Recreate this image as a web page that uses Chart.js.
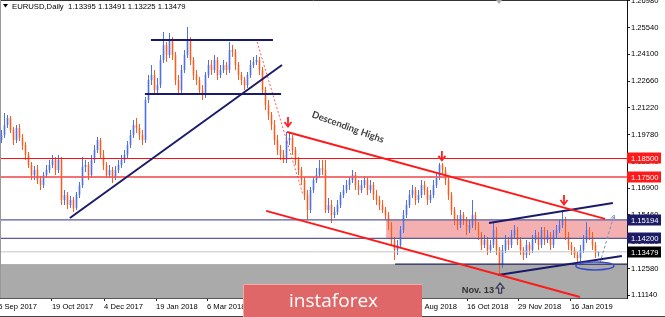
<!DOCTYPE html>
<html>
<head>
<meta charset="UTF-8">
<title>EURUSD Daily</title>
<script src="https://cdn.jsdelivr.net/npm/chart.js"></script>
<style>
  html, body { margin: 0; padding: 0; background: #fff; }
  #wrap { width: 665px; height: 317px; }
</style>
</head>
<body>
<div id="wrap"><canvas id="eurusd" width="665" height="317"></canvas></div>
<script>
// one bar = two trading days
var opens = [
  1.1949,1.1976,1.2030,1.2068,1.2003,1.1949,1.2014,1.1960,1.1923,1.1869,
  1.1815,1.1761,1.1788,1.1734,1.1707,1.1761,1.1788,1.1815,1.1842,1.1788,
  1.1842,1.1627,1.1654,1.1600,1.1627,1.1584,1.1654,1.1707,1.1804,1.1815,
  1.1761,1.1842,1.1896,1.1949,1.1869,1.1815,1.1761,1.1788,1.1745,1.1788,
  1.1815,1.1842,1.1869,1.1923,1.1976,1.2030,1.2014,1.1976,1.1949,1.2165,
  1.2272,1.2299,1.2218,1.2245,1.2380,1.2460,1.2407,1.2487,1.2407,1.2272,
  1.2218,1.2326,1.2407,1.2487,1.2380,1.2299,1.2272,1.2218,1.2191,1.2299,
  1.2353,1.2326,1.2380,1.2299,1.2326,1.2353,1.2326,1.2434,1.2423,1.2353,
  1.2299,1.2272,1.2245,1.2299,1.2353,1.2369,1.2380,1.2326,1.2218,1.2138,
  1.2084,1.2030,1.1949,1.1896,1.1869,1.1842,1.1949,1.1960,1.1896,1.1842,
  1.1788,1.1734,1.1654,1.1573,1.1680,1.1734,1.1761,1.1799,1.1788,1.1573,
  1.1600,1.1546,1.1562,1.1600,1.1654,1.1680,1.1707,1.1734,1.1761,1.1707,
  1.1680,1.1707,1.1734,1.1680,1.1707,1.1654,1.1627,1.1600,1.1573,1.1546,
  1.1492,1.1411,1.1358,1.1385,1.1465,1.1546,1.1600,1.1654,1.1680,1.1627,
  1.1654,1.1707,1.1680,1.1627,1.1654,1.1707,1.1745,1.1815,1.1788,1.1734,
  1.1654,1.1573,1.1519,1.1492,1.1546,1.1519,1.1465,1.1492,1.1546,1.1492,
  1.1438,1.1385,1.1411,1.1358,1.1385,1.1465,1.1358,1.1277,1.1358,1.1411,
  1.1385,1.1438,1.1465,1.1411,1.1358,1.1331,1.1385,1.1358,1.1411,1.1438,
  1.1385,1.1465,1.1411,1.1438,1.1385,1.1438,1.1465,1.1492,1.1519,1.1438,
  1.1385,1.1358,1.1331,1.1315,1.1358,1.1411,1.1465,1.1438,1.1385,1.13395
];
var highs = [
  1.2003,1.2095,1.2084,1.2079,1.2019,1.2030,1.2036,1.1982,1.1939,1.1885,
  1.1831,1.1810,1.1815,1.1756,1.1777,1.1815,1.1842,1.1869,1.1858,1.1869,
  1.1858,1.1680,1.1670,1.1648,1.1643,1.1670,1.1724,1.1858,1.1842,1.1831,
  1.1869,1.1923,1.1966,1.1960,1.1896,1.1831,1.1815,1.1804,1.1810,1.1842,
  1.1869,1.1896,1.1944,1.2003,1.2057,1.2068,1.2036,1.2003,1.2181,1.2299,
  1.2353,1.2326,1.2283,1.2407,1.2530,1.2477,1.2525,1.2504,1.2423,1.2299,
  1.2353,1.2434,1.2557,1.2504,1.2396,1.2326,1.2288,1.2245,1.2315,1.2380,
  1.2380,1.2407,1.2396,1.2353,1.2380,1.2369,1.2477,1.2460,1.2439,1.2369,
  1.2315,1.2288,1.2315,1.2380,1.2396,1.2407,1.2396,1.2342,1.2235,1.2165,
  1.2100,1.2057,1.1976,1.1923,1.1896,1.1992,1.1987,1.1976,1.1912,1.1858,
  1.1804,1.1750,1.1680,1.1697,1.1750,1.1799,1.1842,1.1842,1.1842,1.1637,
  1.1627,1.1589,1.1627,1.1670,1.1707,1.1734,1.1750,1.1788,1.1777,1.1734,
  1.1734,1.1756,1.1750,1.1734,1.1724,1.1680,1.1648,1.1627,1.1589,1.1562,
  1.1508,1.1428,1.1411,1.1487,1.1573,1.1627,1.1680,1.1707,1.1697,1.1680,
  1.1734,1.1729,1.1697,1.1680,1.1734,1.1772,1.1826,1.1826,1.1804,1.1750,
  1.1670,1.1589,1.1546,1.1573,1.1562,1.1535,1.1519,1.1627,1.1562,1.1508,
  1.1455,1.1438,1.1428,1.1411,1.1503,1.1482,1.1374,1.1385,1.1438,1.1428,
  1.1465,1.1492,1.1482,1.1428,1.1374,1.1411,1.1401,1.1438,1.1465,1.1455,
  1.1482,1.1482,1.1465,1.1455,1.1465,1.1492,1.1519,1.1573,1.1535,1.1455,
  1.1401,1.1374,1.1347,1.1385,1.1438,1.1508,1.1482,1.1455,1.1401,1.13491
];
var lows = [
  1.1933,1.1960,1.2014,1.1987,1.1923,1.1933,1.1944,1.1896,1.1842,1.1799,
  1.1734,1.1734,1.1713,1.1680,1.1691,1.1745,1.1772,1.1799,1.1761,1.1772,
  1.1600,1.1600,1.1578,1.1584,1.1562,1.1573,1.1637,1.1691,1.1777,1.1734,
  1.1745,1.1826,1.1880,1.1853,1.1788,1.1745,1.1745,1.1718,1.1734,1.1772,
  1.1799,1.1826,1.1853,1.1906,1.1960,1.1987,1.1949,1.1923,1.1933,1.2148,
  1.2245,1.2191,1.2191,1.2229,1.2364,1.2369,1.2391,1.2380,1.2245,1.2191,
  1.2202,1.2310,1.2391,1.2353,1.2272,1.2245,1.2191,1.2165,1.2175,1.2283,
  1.2299,1.2310,1.2272,1.2283,1.2310,1.2299,1.2310,1.2396,1.2326,1.2272,
  1.2245,1.2218,1.2229,1.2283,1.2337,1.2353,1.2299,1.2202,1.2111,1.2057,
  1.2003,1.1923,1.1869,1.1842,1.1826,1.1826,1.1923,1.1869,1.1815,1.1761,
  1.1707,1.1627,1.1519,1.1557,1.1664,1.1718,1.1745,1.1761,1.1557,1.1557,
  1.1503,1.1530,1.1546,1.1584,1.1637,1.1664,1.1680,1.1718,1.1680,1.1654,
  1.1664,1.1691,1.1654,1.1664,1.1627,1.1600,1.1573,1.1557,1.1519,1.1465,
  1.1385,1.1304,1.1331,1.1368,1.1449,1.1530,1.1584,1.1637,1.1600,1.1611,
  1.1637,1.1654,1.1600,1.1611,1.1637,1.1691,1.1734,1.1761,1.1707,1.1627,
  1.1546,1.1492,1.1465,1.1476,1.1492,1.1438,1.1449,1.1476,1.1465,1.1411,
  1.1358,1.1368,1.1331,1.1342,1.1368,1.1331,1.1223,1.1261,1.1342,1.1358,
  1.1368,1.1422,1.1385,1.1331,1.1304,1.1315,1.1331,1.1342,1.1395,1.1358,
  1.1368,1.1385,1.1395,1.1358,1.1368,1.1422,1.1449,1.1476,1.1411,1.1358,
  1.1331,1.1315,1.1293,1.1293,1.1342,1.1395,1.1411,1.1358,1.1315,1.13225
];
var closes = [
  1.1976,1.2030,1.2068,1.2003,1.1949,1.2014,1.1960,1.1923,1.1869,1.1815,
  1.1761,1.1788,1.1734,1.1707,1.1761,1.1788,1.1815,1.1842,1.1788,1.1842,
  1.1627,1.1654,1.1600,1.1627,1.1584,1.1654,1.1707,1.1804,1.1815,1.1761,
  1.1842,1.1896,1.1949,1.1869,1.1815,1.1761,1.1788,1.1745,1.1788,1.1815,
  1.1842,1.1869,1.1923,1.1976,1.2030,1.2014,1.1976,1.1949,1.2165,1.2272,
  1.2299,1.2218,1.2245,1.2380,1.2460,1.2407,1.2487,1.2407,1.2272,1.2218,
  1.2326,1.2407,1.2487,1.2380,1.2299,1.2272,1.2218,1.2191,1.2299,1.2353,
  1.2326,1.2380,1.2299,1.2326,1.2353,1.2326,1.2434,1.2423,1.2353,1.2299,
  1.2272,1.2245,1.2299,1.2353,1.2369,1.2380,1.2326,1.2218,1.2138,1.2084,
  1.2030,1.1949,1.1896,1.1869,1.1842,1.1949,1.1960,1.1896,1.1842,1.1788,
  1.1734,1.1654,1.1573,1.1680,1.1734,1.1761,1.1799,1.1788,1.1573,1.1600,
  1.1546,1.1562,1.1600,1.1654,1.1680,1.1707,1.1734,1.1761,1.1707,1.1680,
  1.1707,1.1734,1.1680,1.1707,1.1654,1.1627,1.1600,1.1573,1.1546,1.1492,
  1.1411,1.1358,1.1385,1.1465,1.1546,1.1600,1.1654,1.1680,1.1627,1.1654,
  1.1707,1.1680,1.1627,1.1654,1.1707,1.1745,1.1815,1.1788,1.1734,1.1654,
  1.1573,1.1519,1.1492,1.1546,1.1519,1.1465,1.1492,1.1546,1.1492,1.1438,
  1.1385,1.1411,1.1358,1.1385,1.1465,1.1358,1.1277,1.1358,1.1411,1.1385,
  1.1438,1.1465,1.1411,1.1358,1.1331,1.1385,1.1358,1.1411,1.1438,1.1385,
  1.1465,1.1411,1.1438,1.1385,1.1438,1.1465,1.1492,1.1519,1.1438,1.1385,
  1.1358,1.1331,1.1315,1.1358,1.1411,1.1465,1.1438,1.1385,1.1342,1.13479
];

var xTickPos = [-1.1, 16.8, 34.2, 51.5, 68.5, 85.8, 103.2, 120.2, 137.5, 155.2, 172.2, 189.8];
var xTickLabels = ['5 Sep 2017', '19 Oct 2017', '4 Dec 2017', '19 Jan 2018', '6 Mar 2018', '19 Apr 2018',
                   '4 Jun 2018', '17 Jul 2018', '30 Aug 2018', '16 Oct 2018', '29 Nov 2018', '16 Jan 2019'];
var yTicks = [1.26980, 1.25540, 1.24100, 1.22660, 1.21220, 1.19780, 1.18340, 1.16900, 1.15460, 1.14020, 1.12580, 1.11140];

// horizontal levels and their price tags on the axis
var levels = [1.18500, 1.17500, 1.15194, 1.14200, 1.13479];
var zoneHigh = 1.15194, zoneLow = 1.14200, zoneStart = 128.2;
var floorLevel = 1.1282;

// drawn trend lines: start / end as [bar, price]
var lineStart = [[49.8, 1.2487], [47.8, 1.2197], [22.8, 1.1530], [85.2, 1.2477], [95.2, 1.1992],
                 [88.2, 1.1568], [162.5, 1.1503], [165.5, 1.1223], [131.2, 1.1282], [199.5, 1.1288]];
var lineEnd   = [[90.5, 1.2487], [93.2, 1.2197], [93.5, 1.2353], [100.5, 1.1654], [201.2, 1.1525],
                 [192.8, 1.1105], [203.8, 1.1611], [206.8, 1.1326], [208.5, 1.1282], [204.2, 1.1546]];
var highMarks = [[95.5, 1.2019], [146.8, 1.1837], [187.5, 1.1600]];
var nov13Mark = [166.2, 1.1180];
var ellipseAt = [197.8, 1.1272];
var captionAt = [115.5, 1.2019];

var xMin = -0.5, xMax = 208.5, yMin = 1.10995, yMax = 1.27025;

var lineColors = ['#1b1b6b', '#1b1b6b', '#1b1b6b', 'rgba(255,60,60,0.85)', '#ff1a1a',
                  '#ff1a1a', '#1b1b6b', '#1b1b6b', '#23235e', '#7a94b8'];
var lineWidths = [2, 2, 2, 1, 2, 2, 2, 2, 1.2, 1];
var lineDash = [[], [], [], [2, 2], [], [], [], [], [], [3, 2]];
var levelColors = ['#ff1010', 'rgba(240,90,90,0.85)', '#5a5a9c', '#5a5a9c', '#c4c4c4'];
var levelWidths = [1.2, 2, 1.3, 1.3, 1];
var tagColors = ['#ff1a1a', '#ff1a1a', '#1c1c66', '#1c1c66', '#000000'];

function isUp(i) { return closes[i] >= opens[i]; }

var datasets = [];
datasets.push({
  type: 'bar', order: 6, grouped: false, barThickness: 2, inflateAmount: 0,
  data: opens.map(function (o, i) { return { x: i, y: [o, closes[i]] }; }),
  backgroundColor: function (c) { return isUp(c.dataIndex) ? 'rgba(125,150,240,0.85)' : 'rgba(255,150,110,0.85)'; }
});
datasets.push({
  type: 'bar', order: 5, grouped: false, barThickness: 1, inflateAmount: 0,
  data: lows.map(function (l, i) { return { x: i, y: [l, highs[i]] }; }),
  backgroundColor: function (c) { return isUp(c.dataIndex) ? '#4f70e6' : '#ff5a1e'; }
});
levels.forEach(function (v, k) {
  datasets.push({
    type: 'line', order: 2, data: [{ x: xMin, y: v }, { x: xMax, y: v }],
    borderColor: levelColors[k], borderWidth: levelWidths[k], pointRadius: 0, fill: false
  });
});
lineStart.forEach(function (s, k) {
  datasets.push({
    type: 'line', order: 1, data: [{ x: s[0], y: s[1] }, { x: lineEnd[k][0], y: lineEnd[k][1] }],
    borderColor: lineColors[k], borderWidth: lineWidths[k], borderDash: lineDash[k],
    pointRadius: 0, fill: false
  });
});

function downArrow(ctx, px, py) {
  ctx.beginPath();
  ctx.moveTo(px, py - 10); ctx.lineTo(px, py - 1);
  ctx.moveTo(px - 3.5, py - 5); ctx.lineTo(px, py - 0.5); ctx.lineTo(px + 3.5, py - 5);
  ctx.stroke();
}

var overlay = {
  id: 'overlay',
  beforeDatasetsDraw: function (chart) {
    var ctx = chart.ctx, a = chart.chartArea, x = chart.scales.x, y = chart.scales.y;
    ctx.save();
    var gy = y.getPixelForValue(floorLevel);
    ctx.fillStyle = '#aaaaaa';
    ctx.fillRect(a.left, gy, a.right - a.left, a.bottom - gy);
    var zx = x.getPixelForValue(zoneStart), z1 = y.getPixelForValue(zoneHigh), z2 = y.getPixelForValue(zoneLow);
    ctx.fillStyle = '#f4b0b0';
    ctx.fillRect(zx, z1, a.right - zx, z2 - z1);
    ctx.restore();
  },
  afterDraw: function (chart) {
    var ctx = chart.ctx, a = chart.chartArea, x = chart.scales.x, y = chart.scales.y;
    ctx.save();

    // frame
    ctx.strokeStyle = '#333'; ctx.lineWidth = 1;
    ctx.beginPath(); ctx.moveTo(0, 0.5); ctx.lineTo(a.right, 0.5); ctx.stroke();
    ctx.strokeStyle = '#999';
    ctx.beginPath(); ctx.moveTo(0.5, 0); ctx.lineTo(0.5, a.bottom); ctx.stroke();
    ctx.strokeStyle = '#444';
    ctx.beginPath(); ctx.moveTo(0, 316.5); ctx.lineTo(665, 316.5); ctx.stroke();

    // shift marker
    ctx.fillStyle = '#aaa';
    ctx.beginPath(); ctx.moveTo(496, 0); ctx.lineTo(502, 0); ctx.lineTo(499, 4); ctx.fill();

    // header
    ctx.fillStyle = '#000';
    ctx.beginPath(); ctx.moveTo(3, 4); ctx.lineTo(8, 4); ctx.lineTo(5.5, 7.5); ctx.fill();
    var last = closes.length - 1;
    ctx.font = '7.7px "Liberation Sans", Arial, sans-serif';
    ctx.textBaseline = 'alphabetic'; ctx.textAlign = 'left';
    ctx.fillText('EURUSD,Daily  ' + opens[last].toFixed(5) + ' ' + highs[last].toFixed(5) + ' ' +
                 lows[last].toFixed(5) + ' ' + closes[last].toFixed(5), 12, 9);

    // arrows over the highs
    ctx.strokeStyle = '#ff2020'; ctx.lineWidth = 1.8;
    highMarks.forEach(function (m) { downArrow(ctx, x.getPixelForValue(m[0]), y.getPixelForValue(m[1])); });

    // arrow head of the projected move
    var e0 = lineEnd[9], s0 = lineStart[9];
    var ex = x.getPixelForValue(e0[0]), ey = y.getPixelForValue(e0[1]);
    var ang = Math.atan2(ey - y.getPixelForValue(s0[1]), ex - x.getPixelForValue(s0[0]));
    ctx.strokeStyle = '#7a94b8'; ctx.lineWidth = 1;
    ctx.beginPath();
    ctx.moveTo(ex - 5 * Math.cos(ang - 0.45), ey - 5 * Math.sin(ang - 0.45));
    ctx.lineTo(ex, ey);
    ctx.lineTo(ex - 5 * Math.cos(ang + 0.45), ey - 5 * Math.sin(ang + 0.45));
    ctx.stroke();

    // ellipse
    ctx.strokeStyle = '#3b4bc6'; ctx.lineWidth = 1.5;
    ctx.beginPath();
    ctx.ellipse(x.getPixelForValue(ellipseAt[0]), y.getPixelForValue(ellipseAt[1]), 19, 4, 0, 0, Math.PI * 2);
    ctx.stroke();

    // Nov. 13 mark
    var nx = x.getPixelForValue(nov13Mark[0]), ny = y.getPixelForValue(nov13Mark[1]);
    ctx.strokeStyle = '#3a3a5a'; ctx.lineWidth = 1.2;
    ctx.beginPath();
    ctx.moveTo(nx, ny); ctx.lineTo(nx + 4, ny + 5); ctx.lineTo(nx + 1.5, ny + 5); ctx.lineTo(nx + 1.5, ny + 10);
    ctx.lineTo(nx - 1.5, ny + 10); ctx.lineTo(nx - 1.5, ny + 5); ctx.lineTo(nx - 4, ny + 5); ctx.closePath();
    ctx.stroke();
    ctx.fillStyle = '#333';
    ctx.font = 'bold 9.3px "Liberation Sans", Arial, sans-serif';
    ctx.textAlign = 'right';
    ctx.fillText('Nov. 13', nx - 6, ny + 10);

    // caption on the descending line
    ctx.save();
    ctx.translate(x.getPixelForValue(captionAt[0]), y.getPixelForValue(captionAt[1]));
    ctx.rotate(0.347);
    ctx.font = 'bold 9.5px Lato, "Liberation Sans", sans-serif';
    ctx.fillStyle = '#3c3c3c'; ctx.textAlign = 'center'; ctx.textBaseline = 'middle';
    ctx.fillText('Descending Highs', 0, 0);
    ctx.restore();

    // price tags
    ctx.font = '7.6px "Liberation Sans", Arial, sans-serif';
    ctx.textAlign = 'left'; ctx.textBaseline = 'middle';
    levels.forEach(function (v, k) {
      var py = Math.round(y.getPixelForValue(v));
      ctx.fillStyle = tagColors[k];
      ctx.fillRect(a.right, py - 5.5, 34, 11);
      ctx.fillStyle = '#fff';
      ctx.fillText(v.toFixed(5), a.right + 4, py + 0.5);
    });

    // watermark
    ctx.fillStyle = '#e06767';
    ctx.fillRect(243, 284, 179, 33);
    ctx.strokeStyle = '#f0aaaa'; ctx.lineWidth = 1;
    ctx.beginPath(); ctx.moveTo(243.5, 317); ctx.lineTo(243.5, 284.5); ctx.lineTo(422, 284.5); ctx.stroke();
    ctx.fillStyle = '#fff';
    ctx.font = '19px "Open Sans", sans-serif';
    ctx.textAlign = 'left'; ctx.textBaseline = 'alphabetic';
    ctx.fillText('instaforex', 289, 307);

    ctx.restore();
  }
};

Chart.defaults.font.family = '"Liberation Sans", Arial, sans-serif';
Chart.defaults.color = '#000';

new Chart(document.getElementById('eurusd'), {
  type: 'bar',
  data: { datasets: datasets },
  options: {
    responsive: false,
    animation: false,
    events: [],
    layout: { padding: 0 },
    plugins: { legend: { display: false }, tooltip: { enabled: false } },
    scales: {
      x: {
        type: 'linear', min: xMin, max: xMax, offset: false,
        grid: { display: true, drawOnChartArea: false, offset: false, tickLength: 3, color: '#222' },
        border: { display: true, color: '#555' },
        afterBuildTicks: function (s) { s.ticks = xTickPos.map(function (v) { return { value: v }; }); },
        afterFit: function (s) { s.height = 19; s.paddingLeft = 0; s.paddingRight = 0; s.paddingTop = 0; s.paddingBottom = 0; },
        ticks: {
          autoSkip: false, maxRotation: 0, minRotation: 0, align: 'start', padding: 1,
          font: { size: 7.6 }, color: '#000',
          callback: function (v, i) { return xTickLabels[i]; }
        }
      },
      y: {
        type: 'linear', position: 'right', min: yMin, max: yMax, beginAtZero: false,
        grid: { display: true, drawOnChartArea: false, tickLength: 3, color: '#222' },
        border: { display: true, color: '#111' },
        afterBuildTicks: function (s) { s.ticks = yTicks.map(function (v) { return { value: v }; }); },
        afterFit: function (s) { s.width = 38; s.paddingLeft = 0; s.paddingRight = 0; s.paddingTop = 0; s.paddingBottom = 0; },
        ticks: {
          crossAlign: 'near', padding: 1, font: { size: 7.6 }, color: '#000',
          callback: function (v) { return v.toFixed(5); }
        }
      }
    }
  },
  plugins: [overlay]
});
</script>
</body>
</html>
